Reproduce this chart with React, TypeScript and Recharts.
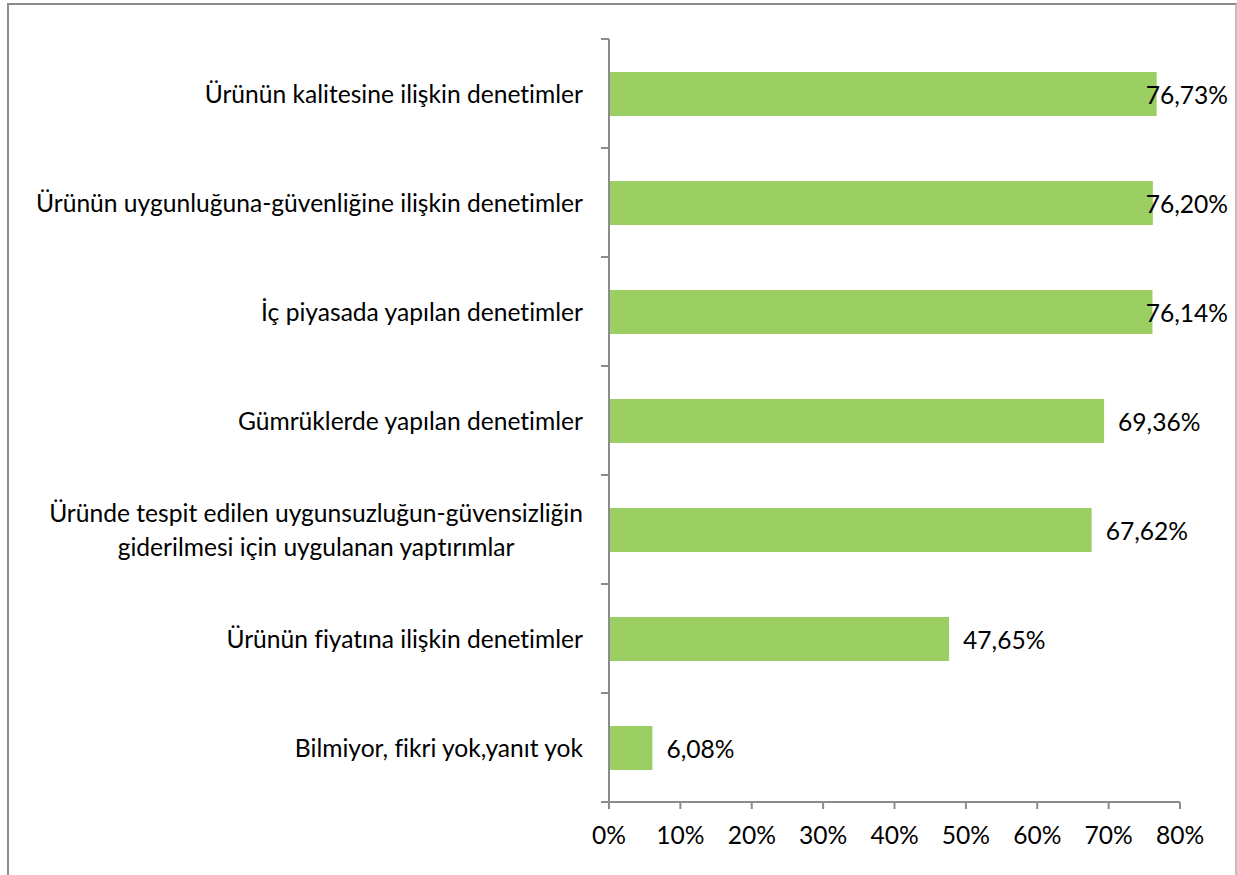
import { BarChart, Bar, XAxis, YAxis, LabelList } from 'recharts';

const categories = [
  'Ürünün kalitesine ilişkin denetimler',
  'Ürünün uygunluğuna-güvenliğine ilişkin denetimler',
  'İç piyasada yapılan denetimler',
  'Gümrüklerde yapılan denetimler',
  'Üründe tespit edilen uygunsuzluğun-güvensizliğin\ngiderilmesi için uygulanan yaptırımlar',
  'Ürünün fiyatına ilişkin denetimler',
  'Bilmiyor, fikri yok,yanıt yok',
];
const values = [0.7673, 0.762, 0.7614, 0.6936, 0.6762, 0.4765, 0.0608];
const xTicks = [0, 0.1, 0.2, 0.3, 0.4, 0.5, 0.6, 0.7, 0.8];

const data = categories.map((name, i) => ({ name, value: values[i] }));

const FONT_SIZE = 24.6;
const FONT_FAMILY = 'Lato, "Noto Sans", sans-serif';
const AXIS = '#8c8c8c';
const BAR = '#9bcf63';
const noLig = { fontVariantLigatures: 'none' as const };

let ctx: CanvasRenderingContext2D | null = null;
function textWidth(s: string) {
  if (!ctx) ctx = document.createElement('canvas').getContext('2d');
  if (!ctx) return s.length * FONT_SIZE * 0.5;
  ctx.font = `${FONT_SIZE}px Lato`;
  return ctx.measureText(s).width;
}

const pct = (v: number) => `${Math.round(v * 100)}%`;
const fmt = (v: number) => `${(v * 100).toFixed(2).replace('.', ',')}%`;

// label on the left + tick marks between categories (Excel style)
function CategoryTick(props: any) {
  const { x, y, payload, index } = props;
  const half = payload?.offset || 54.5;
  const lines = String(payload.value).split('\n');
  const lineH = 34;
  const right = x - 26;
  const maxW = Math.max(...lines.map(textWidth));
  const top = y - ((lines.length - 1) * lineH) / 2;
  return (
    <g>
      <line x1={x - 8} x2={x} y1={y - half} y2={y - half} stroke={AXIS} strokeWidth={2} />
      {index === categories.length - 1 && (
        <line x1={x - 8} x2={x} y1={y + half} y2={y + half} stroke={AXIS} strokeWidth={2} />
      )}
      {lines.map((l, i) => (
        <text
          key={i}
          x={lines.length > 1 ? right - maxW / 2 : right}
          y={top + i * lineH}
          textAnchor={lines.length > 1 ? 'middle' : 'end'}
          dominantBaseline="central"
          fontSize={FONT_SIZE}
          fontFamily={FONT_FAMILY}
          fill="#000"
          style={noLig}
        >
          {l}
        </text>
      ))}
    </g>
  );
}

function ValueLabel(props: any) {
  const { x, y, width, height, value } = props;
  const text = fmt(Number(value));
  const w = textWidth(text);
  let tx = x + width + 14;
  if (tx + w > 1228) tx = 1228 - w;
  return (
    <text
      x={tx}
      y={y + height / 2}
      dominantBaseline="central"
      fontSize={FONT_SIZE}
      fontFamily={FONT_FAMILY}
      fill="#000"
    >
      {text}
    </text>
  );
}

export default function App() {
  return (
    <div style={{ position: 'absolute', left: 0, top: 0, width: 1237, height: 875, background: '#fff', overflow: 'hidden' }}>
      <div
        style={{
          position: 'absolute',
          left: 7,
          top: 3,
          width: 1226,
          height: 900,
          borderLeft: '2px solid #8c8c8c',
          borderTop: '2px solid #8c8c8c',
          borderRight: '2px solid #bfbfbf',
        }}
      />
      <div style={{ position: 'absolute', left: 0, top: 0 }}>
        <BarChart
          width={1237}
          height={875}
          data={data}
          layout="vertical"
          barCategoryGap={0}
          margin={{ top: 39, right: 57, bottom: 33, left: 0 }}
        >
          <XAxis
            type="number"
            domain={[0, 0.8]}
            ticks={xTicks}
            tickFormatter={pct}
            height={40}
            axisLine={{ stroke: AXIS, strokeWidth: 2 }}
            tickLine={{ stroke: AXIS, strokeWidth: 2 }}
            tickSize={7}
            tickMargin={18}
            tick={{ fontSize: FONT_SIZE, fontFamily: FONT_FAMILY, fill: '#000' }}
            interval={0}
          />
          <YAxis
            type="category"
            dataKey="name"
            width={609}
            axisLine={{ stroke: AXIS, strokeWidth: 2 }}
            tickLine={false}
            tickSize={0}
            tickMargin={0}
            tick={<CategoryTick />}
            interval={0}
          />
          <Bar dataKey="value" fill={BAR} barSize={44} isAnimationActive={false}>
            <LabelList dataKey="value" content={<ValueLabel />} />
          </Bar>
        </BarChart>
      </div>
    </div>
  );
}
